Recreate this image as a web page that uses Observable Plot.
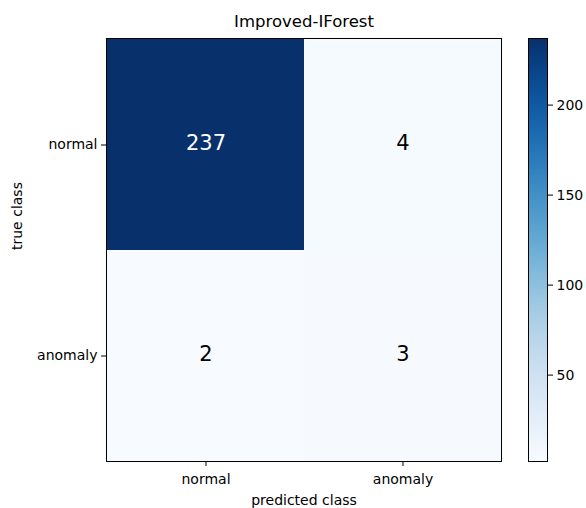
<!DOCTYPE html>
<html>
<head>
<meta charset="utf-8">
<script src="https://cdn.jsdelivr.net/npm/d3@7"></script>
<script src="https://cdn.jsdelivr.net/npm/@observablehq/plot@0.6"></script>
<style>
  html, body { margin: 0; padding: 0; background: #fff; }
  #wrap { position: relative; width: 586px; height: 508px; font-family: "DejaVu Sans", sans-serif; }
  #main { position: absolute; left: 0; top: 0; }
  #cbar { position: absolute; left: 520px; top: 0; }
</style>
</head>
<body>
<div id="wrap"><div id="main"></div><div id="cbar"></div></div>
<script>
const title = "Improved-IForest";
const classes = ["normal", "anomaly"];
const trueClass = ["normal", "normal", "anomaly", "anomaly"];
const predClass = ["normal", "anomaly", "normal", "anomaly"];
const counts = [237, 4, 2, 3];
const cbarTicks = [50, 100, 150, 200];

const cells = counts.map((v, i) => ({t: trueClass[i], p: predClass[i], v}));
const vmin = d3.min(counts), vmax = d3.max(counts);
const colorOpts = {type: "linear", scheme: "blues", domain: [vmin, vmax]};

const main = Plot.plot({
  width: 520, height: 508,
  marginLeft: 106, marginRight: 19, marginTop: 38, marginBottom: 47,
  style: {fontFamily: "DejaVu Sans, sans-serif", fontSize: "14px", color: "#000", background: "#fff"},
  x: {domain: classes, padding: 0},
  y: {domain: classes, padding: 0},
  color: colorOpts,
  marks: [
    Plot.cell(cells, {x: "p", y: "t", fill: "v"}),
    Plot.text(cells, {x: "p", y: "t", text: d => String(d.v), fontSize: 21, dy: -2,
      fill: d => d.v > (vmin + vmax) / 2 ? "#fff" : "#000"}),
    Plot.frame({stroke: "#000", strokeWidth: 1}),
    Plot.axisX({tickSize: 5, tickPadding: 8, fontSize: 14, label: null}),
    Plot.axisY({tickSize: 5, tickPadding: 4, fontSize: 14, label: null}),
    Plot.text(["predicted class"], {frameAnchor: "bottom", dy: 43, fontSize: 14, text: d => d}),
    Plot.text(["true class"], {frameAnchor: "left", dx: -89, rotate: -90, fontSize: 14, text: d => d}),
    Plot.text([title], {frameAnchor: "top", dy: -23, fontSize: 16.5, text: d => d})
  ]
});
document.getElementById("main").appendChild(main);

const nSteps = 423;
const stepH = (vmax - vmin) / nSteps;
const steps = d3.range(nSteps).map(i => vmin + i * stepH);
const cbar = Plot.plot({
  width: 66, height: 508,
  marginLeft: 8, marginRight: 39, marginTop: 38, marginBottom: 47,
  style: {fontFamily: "DejaVu Sans, sans-serif", fontSize: "14px", color: "#000", background: "#fff"},
  x: {domain: [0, 1], axis: null},
  y: {domain: [vmin, vmax]},
  color: colorOpts,
  marks: [
    Plot.rect(steps, {x1: 0, x2: 1, y1: d => d, y2: d => Math.min(vmax, d + stepH * 2), fill: d => d + stepH / 2, shapeRendering: "crispEdges"}),
    Plot.frame({stroke: "#000", strokeWidth: 1}),
    Plot.axisY({anchor: "right", ticks: cbarTicks, tickSize: 5, tickPadding: 4, fontSize: 14, label: null})
  ]
});
document.getElementById("cbar").appendChild(cbar);
</script>
</body>
</html>
